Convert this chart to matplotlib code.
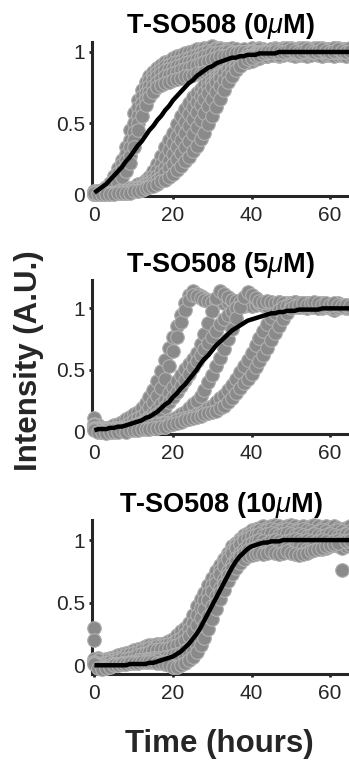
import matplotlib

matplotlib.use("Agg")
import matplotlib.pyplot as plt
import numpy as np

plt.rcParams.update({
    "font.family": ["Liberation Sans", "DejaVu Sans"],
    "mathtext.fontset": "custom",
    "mathtext.rm": "Liberation Sans",
    "mathtext.it": "Liberation Sans:italic",
    "mathtext.bf": "Liberation Sans:bold",
})

INK = "#262626"
DOT_FACE, DOT_EDGE = "#8a8a8a", "#b0b0b0"

# sampling times (hours), one reading per hour
HOURS = np.arange(66)

# ---- T-SO508, 0 uM: normalised intensity traces ----
TRACE_0UM_A = [
    0.02, 0.02, 0.03, 0.05, 0.08, 0.13, 0.18, 0.24, 0.33, 0.45,
    0.57, 0.66, 0.73, 0.79, 0.83, 0.86, 0.89, 0.91, 0.93, 0.94,
    0.96, 0.97, 0.98, 0.99, 1.00, 1.01, 1.02, 1.02, 1.03, 1.03,
    1.04, 1.03, 1.03, 1.02, 1.02, 1.01, 1.02, 1.01, 1.00, 1.01,
    1.03, 1.02, 1.03, 1.02, 1.01, 1.02, 1.03, 1.02, 1.01, 1.02,
    1.03, 1.02, 1.01, 1.02, 1.03, 1.02, 1.01, 1.02, 1.03, 1.02,
    1.01, 1.02, 1.03, 1.02, 1.01, 1.02]
TRACE_0UM_A2 = [
    0.01, 0.02, 0.02, 0.04, 0.06, 0.10, 0.15, 0.21, 0.28, 0.38,
    0.50, 0.61, 0.69, 0.75, 0.80, 0.83, 0.86, 0.88, 0.90, 0.91,
    0.92, 0.93, 0.94, 0.95, 0.96, 0.97, 0.98, 0.99, 1.00, 1.01,
    1.01, 1.02, 1.02, 1.01, 1.02, 1.03, 1.02, 1.01, 1.02, 1.01,
    1.00, 1.01, 1.02, 1.01, 1.00, 1.01, 1.02, 1.01, 1.00, 1.01,
    1.02, 1.01, 1.00, 1.01, 1.02, 1.01, 1.00, 1.01, 1.02, 1.01,
    1.00, 1.01, 1.02, 1.01, 1.00, 1.01]
TRACE_0UM_B = [
    0.01, 0.01, 0.02, 0.03, 0.05, 0.08, 0.12, 0.17, 0.24, 0.33,
    0.44, 0.55, 0.64, 0.71, 0.76, 0.80, 0.83, 0.85, 0.87, 0.88,
    0.89, 0.90, 0.91, 0.92, 0.93, 0.94, 0.95, 0.96, 0.97, 0.98,
    0.99, 0.99, 1.00, 1.00, 1.01, 1.00, 1.00, 0.99, 1.00, 1.00,
    1.01, 1.00, 0.99, 1.00, 1.00, 1.01, 1.00, 0.99, 1.00, 1.00,
    1.01, 1.00, 1.00, 0.99, 1.00, 1.00, 1.01, 1.00, 1.00, 0.99,
    1.00, 1.01, 1.00, 1.00, 0.99, 1.00]
TRACE_0UM_B2 = [
    0.00, 0.01, 0.01, 0.02, 0.04, 0.06, 0.10, 0.14, 0.20, 0.27,
    0.38, 0.50, 0.60, 0.67, 0.72, 0.76, 0.79, 0.81, 0.83, 0.84,
    0.85, 0.86, 0.87, 0.88, 0.89, 0.90, 0.91, 0.92, 0.93, 0.94,
    0.95, 0.96, 0.97, 0.97, 0.98, 0.99, 0.99, 1.00, 1.00, 0.99,
    1.00, 1.00, 0.99, 1.00, 1.01, 1.00, 0.99, 1.00, 1.00, 0.99,
    1.00, 1.00, 1.01, 1.00, 0.99, 1.00, 1.00, 0.99, 1.00, 1.01,
    1.00, 0.99, 1.00, 1.00, 0.99, 1.00]
TRACE_0UM_C = [
    0.00, 0.01, 0.01, 0.02, 0.03, 0.05, 0.08, 0.12, 0.16, 0.22,
    0.33, 0.45, 0.55, 0.63, 0.68, 0.72, 0.75, 0.77, 0.78, 0.79,
    0.80, 0.81, 0.82, 0.83, 0.83, 0.84, 0.85, 0.85, 0.86, 0.86,
    0.87, 0.87, 0.88, 0.88, 0.89, 0.90, 0.91, 0.92, 0.93, 0.94,
    0.95, 0.96, 0.96, 0.97, 0.97, 0.98, 0.98, 0.97, 0.98, 0.99,
    0.98, 0.97, 0.98, 0.98, 0.97, 0.98, 0.99, 0.98, 0.97, 0.98,
    0.98, 0.97, 0.98, 0.98, 0.97, 0.98]
TRACE_0UM_D = [
    0.00, 0.00, 0.00, 0.01, 0.01, 0.01, 0.02, 0.02, 0.03, 0.04,
    0.05, 0.07, 0.08, 0.10, 0.12, 0.16, 0.21, 0.27, 0.33, 0.38,
    0.43, 0.49, 0.55, 0.60, 0.64, 0.68, 0.71, 0.74, 0.77, 0.79,
    0.81, 0.83, 0.85, 0.86, 0.88, 0.89, 0.90, 0.91, 0.92, 0.93,
    0.94, 0.95, 0.96, 0.97, 0.97, 0.98, 0.99, 0.98, 0.99, 1.00,
    0.99, 0.99, 1.00, 1.00, 0.99, 1.00, 1.00, 1.01, 1.00, 1.00,
    1.01, 1.00, 1.00, 1.01, 1.00, 1.00]
TRACE_0UM_D2 = [
    0.00, 0.00, 0.01, 0.01, 0.01, 0.01, 0.01, 0.02, 0.02, 0.03,
    0.04, 0.05, 0.06, 0.08, 0.10, 0.13, 0.17, 0.21, 0.26, 0.31,
    0.36, 0.41, 0.46, 0.51, 0.56, 0.61, 0.65, 0.69, 0.72, 0.75,
    0.78, 0.81, 0.84, 0.86, 0.88, 0.90, 0.92, 0.93, 0.94, 0.95,
    0.96, 0.97, 0.98, 0.99, 0.99, 1.00, 1.00, 1.01, 1.00, 1.00,
    1.01, 1.00, 0.99, 1.00, 1.01, 1.00, 1.00, 1.01, 1.00, 0.99,
    1.00, 1.01, 1.00, 1.00, 1.01, 1.00]
TRACE_0UM_E = [
    0.01, 0.00, 0.00, 0.00, 0.01, 0.01, 0.01, 0.01, 0.02, 0.02,
    0.03, 0.04, 0.05, 0.07, 0.08, 0.10, 0.13, 0.16, 0.19, 0.23,
    0.28, 0.33, 0.38, 0.43, 0.48, 0.53, 0.58, 0.63, 0.67, 0.71,
    0.75, 0.79, 0.82, 0.85, 0.88, 0.90, 0.92, 0.94, 0.96, 0.97,
    0.98, 0.99, 1.00, 1.00, 1.01, 1.02, 1.01, 1.02, 1.03, 1.02,
    1.01, 1.02, 1.03, 1.02, 1.01, 1.02, 1.03, 1.02, 1.01, 1.02,
    1.02, 1.03, 1.02, 1.01, 1.02, 1.02]
TRACE_0UM_E2 = [
    0.00, 0.00, 0.00, 0.00, 0.01, 0.01, 0.01, 0.01, 0.01, 0.02,
    0.02, 0.03, 0.04, 0.05, 0.06, 0.08, 0.10, 0.12, 0.15, 0.18,
    0.21, 0.25, 0.29, 0.33, 0.37, 0.42, 0.47, 0.52, 0.57, 0.62,
    0.67, 0.72, 0.76, 0.80, 0.84, 0.87, 0.90, 0.92, 0.94, 0.96,
    0.97, 0.98, 0.99, 1.00, 1.00, 1.01, 1.02, 1.01, 1.02, 1.03,
    1.02, 1.01, 1.02, 1.03, 1.02, 1.01, 1.02, 1.03, 1.02, 1.01,
    1.02, 1.03, 1.02, 1.01, 1.02, 1.03]
TRACE_0UM_F = [
    0.01, 0.00, 0.00, 0.00, 0.00, 0.00, 0.01, 0.01, 0.01, 0.01,
    0.02, 0.02, 0.03, 0.04, 0.05, 0.06, 0.07, 0.09, 0.10, 0.12,
    0.14, 0.17, 0.20, 0.23, 0.26, 0.30, 0.34, 0.39, 0.43, 0.49,
    0.55, 0.61, 0.67, 0.73, 0.79, 0.83, 0.87, 0.90, 0.93, 0.95,
    0.96, 0.97, 0.98, 0.99, 1.00, 1.00, 1.01, 1.00, 1.00, 1.01,
    1.02, 1.01, 1.00, 1.01, 1.02, 1.01, 1.00, 1.01, 1.02, 1.01,
    1.00, 1.01, 1.02, 1.01, 1.00, 1.01]
FIT_0UM = [
    0.01, 0.03, 0.05, 0.07, 0.10, 0.13, 0.16, 0.19, 0.23, 0.26,
    0.30, 0.34, 0.37, 0.41, 0.45, 0.48, 0.52, 0.55, 0.59, 0.62,
    0.66, 0.69, 0.72, 0.75, 0.78, 0.80, 0.83, 0.85, 0.87, 0.89,
    0.90, 0.92, 0.93, 0.94, 0.95, 0.96, 0.96, 0.97, 0.97, 0.98,
    0.98, 0.98, 0.99, 0.99, 0.99, 0.99, 0.99, 1.00, 1.00, 1.00,
    1.00, 1.00, 1.00, 1.00, 1.00, 1.00, 1.00, 1.00, 1.00, 1.00,
    1.00, 1.00, 1.00, 1.00, 1.00, 1.00]

# ---- T-SO508, 5 uM ----
TRACE_5UM_A = [
    0.11, 0.05, 0.03, 0.03, 0.04, 0.05, 0.06, 0.08, 0.10, 0.12,
    0.14, 0.16, 0.19, 0.23, 0.28, 0.34, 0.41, 0.49, 0.58, 0.68,
    0.77, 0.86, 0.95, 1.04, 1.11, 1.14, 1.12, 1.10, 1.08, 1.07,
    1.06, 1.07, 1.06, 1.05, 1.06, 1.05, 1.04, 1.05, 1.06, 1.05,
    1.04, 1.05, 1.04, 1.03, 1.04, 1.05, 1.04, 1.03, 1.04, 1.03,
    1.04, 1.05, 1.04, 1.03, 1.04, 1.03, 1.02, 1.03, 1.04, 1.03,
    1.02, 1.03, 1.04, 1.03, 1.02, 1.03]
TRACE_5UM_A2 = [
    0.06, 0.03, 0.02, 0.02, 0.02, 0.03, 0.03, 0.04, 0.05, 0.07,
    0.09, 0.11, 0.13, 0.16, 0.20, 0.24, 0.29, 0.35, 0.43, 0.53,
    0.65, 0.77, 0.89, 0.99, 1.07, 1.11, 1.10, 1.08, 1.07, 1.06,
    1.05, 1.06, 1.05, 1.04, 1.05, 1.06, 1.05, 1.04, 1.05, 1.04,
    1.03, 1.04, 1.05, 1.04, 1.03, 1.04, 1.03, 1.02, 1.03, 1.04,
    1.03, 1.02, 1.03, 1.04, 1.03, 1.02, 1.01, 1.02, 1.03, 1.02,
    1.01, 1.02, 1.03, 1.02, 1.01, 1.02]
TRACE_5UM_B = [
    0.05, 0.03, 0.02, 0.01, 0.01, 0.02, 0.02, 0.03, 0.03, 0.04,
    0.05, 0.06, 0.08, 0.10, 0.12, 0.15, 0.18, 0.22, 0.26, 0.31,
    0.36, 0.41, 0.46, 0.51, 0.55, 0.59, 0.64, 0.71, 0.79, 0.88,
    0.98, 1.08, 1.14, 1.12, 1.09, 1.07, 1.06, 1.05, 1.06, 1.05,
    1.04, 1.05, 1.06, 1.05, 1.04, 1.03, 1.04, 1.05, 1.04, 1.03,
    1.02, 1.03, 1.04, 1.03, 1.02, 1.03, 1.04, 1.03, 1.02, 1.01,
    1.02, 1.03, 1.02, 1.01, 1.02, 1.01]
TRACE_5UM_C = [
    0.03, 0.02, 0.01, 0.01, 0.01, 0.01, 0.02, 0.02, 0.03, 0.04,
    0.05, 0.06, 0.07, 0.08, 0.10, 0.12, 0.14, 0.17, 0.20, 0.24,
    0.28, 0.32, 0.37, 0.42, 0.47, 0.52, 0.57, 0.62, 0.67, 0.72,
    0.77, 0.82, 0.87, 0.91, 0.95, 0.98, 1.00, 1.01, 1.02, 1.03,
    1.02, 1.03, 1.04, 1.03, 1.02, 1.03, 1.02, 1.01, 1.02, 1.03,
    1.02, 1.01, 1.02, 1.01, 1.00, 1.01, 1.02, 1.01, 1.00, 1.01,
    1.00, 0.99, 1.00, 1.01, 1.00, 1.01]
TRACE_5UM_D = [
    0.02, 0.01, 0.00, 0.00, 0.00, 0.01, 0.01, 0.01, 0.02, 0.02,
    0.02, 0.03, 0.03, 0.04, 0.04, 0.05, 0.06, 0.07, 0.08, 0.09,
    0.10, 0.12, 0.14, 0.16, 0.19, 0.22, 0.25, 0.29, 0.34, 0.40,
    0.46, 0.53, 0.60, 0.67, 0.75, 0.83, 0.92, 1.01, 1.09, 1.13,
    1.11, 1.08, 1.06, 1.05, 1.06, 1.05, 1.04, 1.05, 1.04, 1.03,
    1.04, 1.05, 1.04, 1.03, 1.04, 1.03, 1.02, 1.03, 1.04, 1.03,
    1.02, 1.03, 1.02, 1.03, 1.02, 1.03]
TRACE_5UM_E = [
    0.02, 0.01, 0.00, 0.00, 0.01, 0.01, 0.01, 0.02, 0.02, 0.02,
    0.03, 0.03, 0.04, 0.04, 0.05, 0.05, 0.06, 0.06, 0.07, 0.07,
    0.08, 0.09, 0.10, 0.11, 0.12, 0.13, 0.14, 0.15, 0.17, 0.19,
    0.21, 0.24, 0.27, 0.30, 0.34, 0.38, 0.43, 0.48, 0.53, 0.58,
    0.64, 0.70, 0.76, 0.82, 0.87, 0.92, 0.96, 0.99, 1.01, 1.02,
    1.03, 1.02, 1.01, 1.02, 1.03, 1.02, 1.01, 1.00, 1.01, 1.02,
    1.01, 1.00, 1.01, 1.02, 1.01, 1.00]
TRACE_5UM_F = [
    0.01, 0.00, 0.00, -0.01, 0.00, 0.00, 0.00, 0.01, 0.00, 0.01,
    0.01, 0.01, 0.02, 0.02, 0.02, 0.03, 0.03, 0.04, 0.04, 0.05,
    0.06, 0.07, 0.08, 0.09, 0.10, 0.11, 0.12, 0.13, 0.14, 0.15,
    0.16, 0.17, 0.19, 0.21, 0.24, 0.27, 0.31, 0.35, 0.39, 0.43,
    0.47, 0.52, 0.57, 0.62, 0.68, 0.74, 0.80, 0.86, 0.91, 0.96,
    1.00, 1.02, 1.03, 1.04, 1.03, 1.04, 1.05, 1.04, 1.03, 1.04,
    1.03, 1.04, 1.03, 1.02, 1.03, 1.02]
FIT_5UM = [
    0.01, 0.02, 0.02, 0.02, 0.03, 0.03, 0.04, 0.04, 0.05, 0.06,
    0.07, 0.08, 0.09, 0.11, 0.12, 0.14, 0.16, 0.19, 0.22, 0.24,
    0.28, 0.31, 0.35, 0.38, 0.42, 0.46, 0.50, 0.55, 0.59, 0.62,
    0.66, 0.70, 0.73, 0.76, 0.79, 0.82, 0.84, 0.86, 0.88, 0.90,
    0.91, 0.92, 0.93, 0.94, 0.95, 0.96, 0.96, 0.97, 0.97, 0.98,
    0.98, 0.98, 0.99, 0.99, 0.99, 0.99, 0.99, 0.99, 1.00, 1.00,
    1.00, 1.00, 1.00, 1.00, 1.00, 1.00]

# ---- T-SO508, 10 uM ----
TRACE_10UM_A = [
    0.30, 0.06, 0.04, 0.05, 0.06, 0.07, 0.08, 0.09, 0.10, 0.11,
    0.12, 0.13, 0.14, 0.15, 0.16, 0.16, 0.17, 0.17, 0.18, 0.19,
    0.21, 0.24, 0.27, 0.30, 0.34, 0.40, 0.47, 0.53, 0.58, 0.64,
    0.70, 0.75, 0.80, 0.85, 0.90, 0.95, 0.98, 1.01, 1.04, 1.06,
    1.08, 1.09, 1.10, 1.11, 1.10, 1.11, 1.12, 1.11, 1.10, 1.11,
    1.12, 1.11, 1.10, 1.11, 1.10, 1.11, 1.12, 1.11, 1.10, 1.11,
    1.10, 1.11, 1.10, 1.09, 1.10, 1.11]
TRACE_10UM_A2 = [
    0.05, 0.03, 0.03, 0.04, 0.04, 0.05, 0.06, 0.07, 0.08, 0.09,
    0.10, 0.11, 0.12, 0.13, 0.14, 0.14, 0.15, 0.15, 0.16, 0.17,
    0.18, 0.20, 0.22, 0.25, 0.29, 0.34, 0.40, 0.46, 0.52, 0.58,
    0.64, 0.70, 0.76, 0.82, 0.87, 0.92, 0.96, 0.99, 1.02, 1.04,
    1.06, 1.07, 1.08, 1.07, 1.08, 1.09, 1.08, 1.07, 1.08, 1.09,
    1.08, 1.07, 1.08, 1.09, 1.08, 1.07, 1.06, 1.07, 1.08, 1.07,
    1.06, 1.07, 1.08, 1.07, 1.06, 1.07]
TRACE_10UM_B = [
    0.20, 0.04, 0.02, 0.02, 0.03, 0.03, 0.04, 0.05, 0.05, 0.06,
    0.07, 0.08, 0.09, 0.10, 0.11, 0.12, 0.12, 0.13, 0.13, 0.14,
    0.15, 0.16, 0.18, 0.20, 0.23, 0.27, 0.32, 0.38, 0.45, 0.52,
    0.59, 0.66, 0.73, 0.79, 0.85, 0.90, 0.94, 0.97, 1.00, 1.02,
    1.03, 1.04, 1.05, 1.04, 1.05, 1.06, 1.05, 1.04, 1.05, 1.06,
    1.05, 1.04, 1.05, 1.04, 1.03, 1.04, 1.05, 1.04, 1.03, 1.04,
    1.05, 1.04, 1.03, 1.04, 1.05, 1.04]
TRACE_10UM_C = [
    0.03, 0.01, 0.00, -0.01, 0.00, 0.01, 0.01, 0.02, 0.02, 0.03,
    0.03, 0.04, 0.04, 0.05, 0.05, 0.06, 0.06, 0.06, 0.07, 0.07,
    0.08, 0.09, 0.10, 0.12, 0.14, 0.17, 0.21, 0.26, 0.32, 0.39,
    0.47, 0.55, 0.62, 0.69, 0.75, 0.81, 0.86, 0.90, 0.93, 0.96,
    0.98, 0.99, 1.00, 0.99, 0.98, 0.99, 1.00, 0.99, 0.98, 0.99,
    1.00, 1.01, 1.00, 0.99, 1.00, 0.99, 0.98, 0.99, 1.00, 0.99,
    0.98, 0.99, 1.00, 0.99, 0.98, 0.99]
TRACE_10UM_C2 = [
    0.02, 0.00, -0.01, -0.01, 0.00, 0.00, 0.01, 0.01, 0.02, 0.02,
    0.03, 0.03, 0.04, 0.04, 0.04, 0.04, 0.04, 0.03, 0.03, 0.03,
    0.03, 0.04, 0.05, 0.07, 0.09, 0.12, 0.16, 0.21, 0.27, 0.34,
    0.42, 0.50, 0.58, 0.65, 0.72, 0.78, 0.83, 0.87, 0.90, 0.92,
    0.93, 0.94, 0.95, 0.94, 0.93, 0.94, 0.95, 0.96, 0.95, 0.94,
    0.93, 0.94, 0.95, 0.94, 0.93, 0.94, 0.95, 0.94, 0.93, 0.94,
    0.95, 0.96, 0.95, 0.94, 0.95, 0.96]
TRACE_10UM_D = [
    0.01, -0.02, -0.03, -0.02, -0.01, 0.00, 0.00, 0.01, 0.01, 0.02,
    0.02, 0.02, 0.03, 0.03, 0.03, 0.03, 0.02, 0.02, 0.01, 0.00,
    -0.01, -0.01, 0.00, 0.02, 0.04, 0.07, 0.11, 0.16, 0.22, 0.29,
    0.37, 0.45, 0.53, 0.60, 0.67, 0.73, 0.78, 0.82, 0.85, 0.87,
    0.88, 0.89, 0.90, 0.89, 0.90, 0.91, 0.90, 0.89, 0.90, 0.91,
    0.90, 0.89, 0.88, 0.89, 0.90, 0.91, 0.92, 0.93, 0.94, 0.95,
    0.96, 0.97, 0.98, 0.76, 0.99, 1.00]
FIT_10UM = [
    0.00, 0.00, 0.00, 0.00, 0.00, 0.00, 0.00, 0.00, 0.00, 0.01,
    0.01, 0.01, 0.01, 0.01, 0.02, 0.02, 0.03, 0.04, 0.05, 0.06,
    0.07, 0.09, 0.11, 0.14, 0.17, 0.21, 0.25, 0.30, 0.36, 0.42,
    0.48, 0.54, 0.60, 0.66, 0.72, 0.78, 0.83, 0.87, 0.90, 0.93,
    0.95, 0.96, 0.97, 0.98, 0.98, 0.99, 0.99, 0.99, 1.00, 1.00,
    1.00, 1.00, 1.00, 1.00, 1.00, 1.00, 1.00, 1.00, 1.00, 1.00,
    1.00, 1.00, 1.00, 1.00, 1.00, 1.00]

TITLES = [r"T-SO508 (0$\mu$M)", r"T-SO508 (5$\mu$M)", r"T-SO508 (10$\mu$M)"]
TRACES = [
    [TRACE_0UM_A, TRACE_0UM_A2, TRACE_0UM_B, TRACE_0UM_B2, TRACE_0UM_C,
     TRACE_0UM_D, TRACE_0UM_D2, TRACE_0UM_E, TRACE_0UM_E2, TRACE_0UM_F],
    [TRACE_5UM_A, TRACE_5UM_A2, TRACE_5UM_B, TRACE_5UM_C, TRACE_5UM_D,
     TRACE_5UM_E, TRACE_5UM_F],
    [TRACE_10UM_A, TRACE_10UM_A2, TRACE_10UM_B, TRACE_10UM_C, TRACE_10UM_C2,
     TRACE_10UM_D],
]
FITS = [FIT_0UM, FIT_5UM, FIT_10UM]
YTICKS = [0, 0.5, 1]
YTICK_LABELS = ["0", "0.5", "1"]
XTICKS = [0, 20, 40, 60]

# panel layout: (bottom, ylim, title pad in points)
PANELS = [
    (0.7431, (-0.014, 1.07), 6.5),
    (0.4312, (-0.02, 1.23), -1.4),
    (0.1166, (-0.07, 1.16), 5.0),
]

fig = plt.figure(figsize=(3.49, 7.63), dpi=100)

for (bottom, ylim, pad), title, traces, fit in zip(PANELS, TITLES, TRACES, FITS):
    ax = fig.add_axes([0.265, bottom, 0.735, 0.2018])
    for tr in traces:
        ax.plot(HOURS, tr, ls="none", marker="o", ms=9.8, mfc=DOT_FACE,
                mec=DOT_EDGE, mew=0.8, clip_on=False, zorder=3)
    ax.plot(HOURS, fit, color="black", lw=3.2, zorder=4, clip_on=False,
            solid_capstyle="butt")

    ax.set_xlim(-0.5, 64.8)
    ax.set_ylim(*ylim)
    ax.set_xticks(XTICKS)
    ax.set_yticks(YTICKS)
    ax.set_yticklabels(YTICK_LABELS)
    ax.set_axisbelow(True)
    for side in ("top", "right"):
        ax.spines[side].set_visible(False)
    for side in ("left", "bottom"):
        ax.spines[side].set_color(INK)
        ax.spines[side].set_linewidth(2.2)
        ax.spines[side].set_zorder(1)
    ax.tick_params(direction="out", length=2.5, width=2.0, color=INK,
                   labelcolor=INK, labelsize=15, pad=3)
    ax.tick_params(axis="x", pad=5)
    ax.set_title(title, fontsize=19.5, fontweight="bold", color="black", pad=pad)

fig.text(29 / 349, 1 - 361 / 763, "Intensity (A.U.)", rotation=90,
         ha="center", va="center", fontsize=22.5, fontweight="bold", color=INK)
fig.text(219 / 349, 1 - 744 / 763, "Time (hours)", ha="center", va="center",
         fontsize=22.5, fontweight="bold", color=INK)

fig.savefig("out.png", dpi=100)
